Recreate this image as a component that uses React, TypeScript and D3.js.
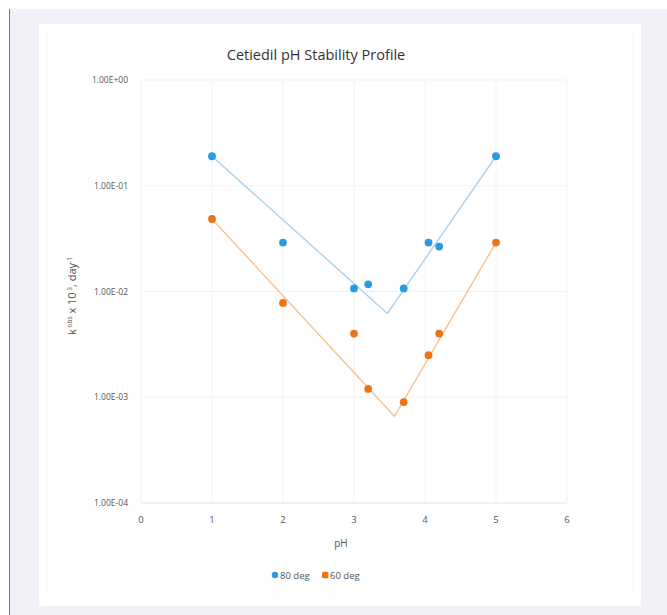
import { useMemo } from "react";
import * as d3 from "d3";

const WIDTH = 667;
const HEIGHT = 615;

const xTicks = [0, 1, 2, 3, 4, 5, 6];
const yTicks = [1e-4, 1e-3, 1e-2, 1e-1, 1];
const yTickLabels = ["1.00E-04", "1.00E-03", "1.00E-02", "1.00E-01", "1.00E+00"];

// measured points
const ph80 = [1, 2, 3, 3.2, 3.7, 4.05, 4.2, 5];
const k80 = [0.19, 0.029, 0.0107, 0.0117, 0.0107, 0.029, 0.0266, 0.19];
const ph60 = [1, 2, 3, 3.2, 3.7, 4.05, 4.2, 5];
const k60 = [0.0485, 0.0078, 0.004, 0.0012, 0.0009, 0.0025, 0.004, 0.029];

// fitted V-shaped lines
const fitPh80 = [1, 3.47, 5];
const fitK80 = [0.19, 0.0062, 0.19];
const fitPh60 = [1, 3.57, 5];
const fitK60 = [0.0485, 0.00066, 0.029];

const seriesNames = ["80 deg", "60 deg"];
const pointColors = ["#2b9be0", "#ec7418"];
const lineColors = ["#a9d1ee", "#f6c28f"];

const FONT = "'Open Sans', 'Liberation Sans', sans-serif";

export default function App() {
  const x = d3.scaleLinear().domain([0, 6]).range([141, 567]);
  const y = d3.scaleLog().domain([1e-4, 1]).range([503, 80]);

  const line = d3
    .line<[number, number]>()
    .x((d) => x(d[0]))
    .y((d) => y(d[1]));

  const series = useMemo(
    () => [
      { pts: ph80.map((p, i) => [p, k80[i]] as [number, number]), fit: fitPh80.map((p, i) => [p, fitK80[i]] as [number, number]) },
      { pts: ph60.map((p, i) => [p, k60[i]] as [number, number]), fit: fitPh60.map((p, i) => [p, fitK60[i]] as [number, number]) },
    ],
    []
  );

  return (
    <svg
      width={WIDTH}
      height={HEIGHT}
      style={{ position: "absolute", left: 0, top: 0, fontFamily: FONT }}
    >
      <rect x={0} y={0} width={WIDTH} height={HEIGHT} fill="#ffffff" />
      <rect x={9} y={9} width={WIDTH - 9} height={HEIGHT - 9} fill="#f1f2f8" />
      <line x1={9.5} y1={9} x2={9.5} y2={HEIGHT} stroke="#7a7a7a" strokeWidth={1} />
      <rect x={39} y={24} width={602} height={582} fill="#ffffff" />
      <rect x={47.5} y={33.5} width={585} height={560} fill="none" stroke="#fafafa" />

      <text x={316} y={60} textAnchor="middle" fontSize={14.5} fill="#333">
        Cetiedil pH Stability Profile
      </text>

      {/* grid */}
      {xTicks.map((t) => (
        <line key={"gx" + t} x1={x(t)} x2={x(t)} y1={y(1)} y2={y(1e-4)} stroke="#f3f3f3" />
      ))}
      {yTicks.map((t) => (
        <line key={"gy" + t} x1={x(0)} x2={x(6)} y1={y(t)} y2={y(t)} stroke="#f3f3f3" />
      ))}
      <line x1={x(0)} x2={x(6)} y1={y(1e-4)} y2={y(1e-4)} stroke="#ebebeb" />

      {/* tick labels */}
      {yTicks.map((t, i) => (
        <text key={"ty" + t} x={128} y={y(t) + 3} textAnchor="end" fontSize={8.5} fill="#555">
          {yTickLabels[i]}
        </text>
      ))}
      {xTicks.map((t) => (
        <text key={"tx" + t} x={x(t)} y={523} textAnchor="middle" fontSize={9.5} fill="#555">
          {t}
        </text>
      ))}

      <text x={341} y={547} textAnchor="middle" fontSize={10} fill="#555">
        pH
      </text>

      <text
        transform="translate(76,296) rotate(-90)"
        textAnchor="middle"
        fontSize={11}
        fill="#555"
      >
        k
        <tspan fontSize={6.5} dy={-4}> obs</tspan>
        <tspan dy={4}> x 10</tspan>
        <tspan fontSize={6.5} dy={-4}> 3</tspan>
        <tspan dy={4}>, day</tspan>
        <tspan fontSize={6.5} dy={-4}>-1</tspan>
      </text>

      {/* fitted lines */}
      {series.map((s, i) => (
        <path key={"l" + i} d={line(s.fit) ?? ""} fill="none" stroke={lineColors[i]} strokeWidth={1.4} />
      ))}

      {/* points */}
      {series.map((s, i) =>
        s.pts.map((d, j) => (
          <circle key={"p" + i + "-" + j} cx={x(d[0])} cy={y(d[1])} r={3.9} fill={pointColors[i]} />
        ))
      )}

      {/* legend */}
      <circle cx={275} cy={575} r={3.2} fill={pointColors[0]} />
      <text x={280} y={578.5} fontSize={9.5} fill="#555">
        {seriesNames[0]}
      </text>
      <rect x={322} y={571.8} width={6.4} height={6.4} rx={1.5} fill={pointColors[1]} />
      <text x={330} y={578.5} fontSize={9.5} fill="#555">
        {seriesNames[1]}
      </text>
    </svg>
  );
}
